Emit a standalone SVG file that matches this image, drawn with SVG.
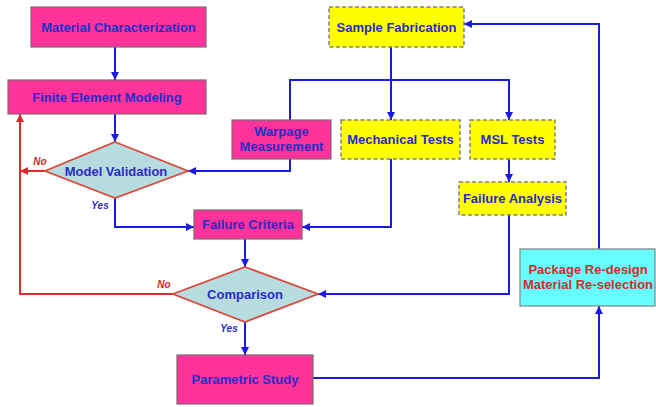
<svg xmlns="http://www.w3.org/2000/svg" width="656" height="407" viewBox="0 0 656 407">
<style>
.pink{fill:#ff3399;stroke:#7a6a70;stroke-width:1.2}
.yel{fill:#ffff00;stroke:#808080;stroke-width:1.5;stroke-dasharray:4 2.5}
.dia{fill:#b6dce0;stroke:#d84a3a;stroke-width:1.8}
.cyan{fill:#66ffff;stroke:#808080;stroke-width:1.2}
text{font-family:"Liberation Sans",Arial,sans-serif;font-weight:bold;font-size:13px;text-anchor:middle}
.t{fill:#2a2ac8}
.r{fill:#d42a2a}
.lbl{font-size:10px;font-style:italic}
.b{fill:none;stroke:#1a1ae0;stroke-width:2}
.rl{fill:none;stroke:#dd2a2a;stroke-width:2}
</style>
<defs>
<marker id="ab" viewBox="0 0 8 8" refX="8" refY="4" markerWidth="4" markerHeight="4" orient="auto" markerUnits="strokeWidth"><path d="M0,0 L8,4 L0,8 z" fill="#1a1ae0"/></marker>
<marker id="ar" viewBox="0 0 8 8" refX="8" refY="4" markerWidth="4" markerHeight="4" orient="auto" markerUnits="strokeWidth"><path d="M0,0 L8,4 L0,8 z" fill="#dd2a2a"/></marker>
</defs>
<g id="connectors">
<path class="b" d="M115,47 V80" marker-end="url(#ab)"/>
<path class="b" d="M115,114 V142" marker-end="url(#ab)"/>
<path class="b" d="M391,47 V120" marker-end="url(#ab)"/>
<path class="b" d="M290,120 V80 H509 V120" marker-end="url(#ab)"/>
<path class="b" d="M290,159 V171 H188" marker-end="url(#ab)"/>
<path class="b" d="M509,159 V182" marker-end="url(#ab)"/>
<path class="b" d="M115,198 V227 H194" marker-end="url(#ab)"/>
<path class="b" d="M391,159 V227 H302" marker-end="url(#ab)"/>
<path class="b" d="M245,239 V267" marker-end="url(#ab)"/>
<path class="b" d="M509,215 V294 H318" marker-end="url(#ab)"/>
<path class="b" d="M245,322 V355" marker-end="url(#ab)"/>
<path class="b" d="M313,378 H599 V306" marker-end="url(#ab)"/>
<path class="b" d="M599,249 V24 H464" marker-end="url(#ab)"/>
<path class="rl" d="M45,171 H20" marker-end="url(#ar)"/>
<path class="rl" d="M173,294 H20 V114" marker-end="url(#ar)"/>
<text class="r lbl" x="40" y="165">No</text>
<text class="t lbl" x="100" y="209">Yes</text>
<text class="r lbl" x="164" y="288">No</text>
<text class="t lbl" x="229" y="332">Yes</text>
</g>
<g id="material-characterization"><rect class="pink" x="31" y="7" width="175" height="40"/><text class="t" x="118.5" y="31.5">Material Characterization</text></g>
<g id="finite-element-modeling"><rect class="pink" x="8" y="80" width="198" height="34"/><text class="t" x="107" y="101.5">Finite Element Modeling</text></g>
<g id="model-validation"><polygon class="dia" points="115,142 188,171 115,198 45,171"/><text class="t" x="116" y="175.5">Model Validation</text></g>
<g id="sample-fabrication"><rect class="yel" x="329" y="7" width="135" height="40"/><text class="t" x="396.5" y="31.5">Sample Fabrication</text></g>
<g id="warpage-measurement"><rect class="pink" x="232" y="120" width="99" height="39"/><text class="t" x="281.5" y="136">Warpage</text><text class="t" x="281.5" y="151">Measurement</text></g>
<g id="mechanical-tests"><rect class="yel" x="341" y="120" width="119" height="39"/><text class="t" x="400.5" y="144">Mechanical Tests</text></g>
<g id="msl-tests"><rect class="yel" x="470" y="120" width="85" height="39"/><text class="t" x="512.5" y="144">MSL Tests</text></g>
<g id="failure-analysis"><rect class="yel" x="459" y="182" width="107" height="33"/><text class="t" x="512.5" y="203">Failure Analysis</text></g>
<g id="failure-criteria"><rect class="pink" x="194" y="210" width="108" height="29"/><text class="t" x="248" y="229">Failure Criteria</text></g>
<g id="comparison"><polygon class="dia" points="245,267 318,294 245,322 173,294"/><text class="t" x="245" y="298.5">Comparison</text></g>
<g id="parametric-study"><rect class="pink" x="177" y="355" width="136" height="49"/><text class="t" x="245" y="384">Parametric Study</text></g>
<g id="package-redesign"><rect class="cyan" x="520" y="249" width="135" height="57"/><text class="r" x="588" y="273.5">Package Re-design</text><text class="r" x="588" y="289">Material Re-selection</text></g>
</svg>
